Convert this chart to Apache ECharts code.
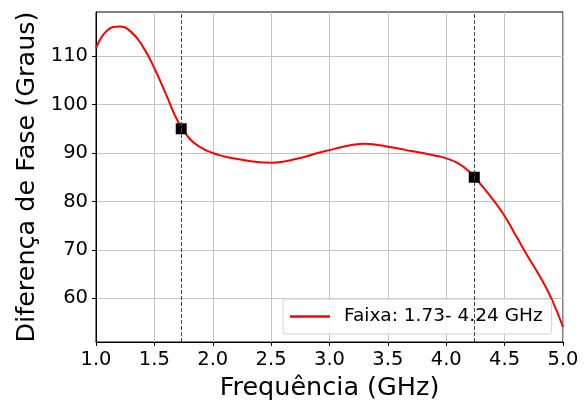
<!DOCTYPE html>
<html>
<head>
<meta charset="utf-8">
<script src="https://cdn.jsdelivr.net/npm/echarts@6/dist/echarts.min.js"></script>
<style>
  html, body { margin: 0; padding: 0; background: #fff; }
  #chart { width: 588px; height: 406px; }
</style>
</head>
<body>
<div id="chart"></div>
<script>
// dados (passo de 0.1 GHz)
const freq = [1.0, 1.1, 1.2, 1.3, 1.4, 1.5, 1.6, 1.7, 1.8, 1.9,
  2.0, 2.1, 2.2, 2.3, 2.4, 2.5, 2.6, 2.7, 2.8, 2.9,
  3.0, 3.1, 3.2, 3.3, 3.4, 3.5, 3.6, 3.7, 3.8, 3.9,
  4.0, 4.1, 4.2, 4.3, 4.4, 4.5, 4.6, 4.7, 4.8, 4.9, 5.0]
const phase = [111.6, 115.4, 116.1, 115.0, 112.0, 107.5, 102.1, 96.6, 93.0, 91.1,
  90.0, 89.3, 88.8, 88.4, 88.1, 88.0, 88.2, 88.7, 89.3, 90.0,
  90.6, 91.2, 91.7, 91.9, 91.7, 91.3, 90.9, 90.4, 90.0, 89.5,
  88.9, 87.9, 86.1, 83.4, 80.4, 77.0, 72.8, 68.6, 64.6, 60.0, 54.1]
// limites da faixa
const bandFreq = [1.73, 4.24]
const bandPhase = [95.0, 85.0]
const yTicks = [60, 70, 80, 90, 100, 110]
const legendName = 'Faixa: 1.73- 4.24 GHz'

const font = 'DejaVu Sans'
const chart = echarts.init(document.getElementById('chart'))

const option = {
  animation: false,
  grid: {
    left: 96, right: 25, top: 12, bottom: 63,
    show: true, borderColor: '#000', borderWidth: 1
  },
  legend: {
    data: [legendName],
    left: 283, top: 299,
    padding: [8, 9, 8, 7],
    itemWidth: 40, itemHeight: 2.5, itemGap: 0,
    icon: 'rect',
    backgroundColor: 'rgba(255,255,255,0.85)',
    borderColor: '#d0d0d0', borderWidth: 1, borderRadius: 3,
    textStyle: { fontFamily: font, fontSize: 18.5, color: '#000', padding: [0, 0, 0, 9] }
  },
  xAxis: {
    type: 'value',
    min: 1, max: 5, interval: 0.5,
    name: 'Frequência (GHz)',
    nameLocation: 'middle', nameGap: 33,
    nameTextStyle: { fontFamily: font, fontSize: 25.5, color: '#000' },
    axisLine: { show: true, onZero: false, lineStyle: { color: '#000', width: 1 } },
    axisTick: { show: true, inside: false, length: 4, lineStyle: { color: '#000' } },
    axisLabel: { fontFamily: font, fontSize: 19.5, color: '#000', margin: 8,
      formatter: v => v.toFixed(1) },
    splitLine: { show: true, lineStyle: { color: '#c4c4c4', width: 1 } }
  },
  yAxis: {
    type: 'value',
    min: 51, max: 119.1,
    name: 'Diferença de Fase (Graus)',
    nameLocation: 'middle', nameGap: 55,
    nameTextStyle: { fontFamily: font, fontSize: 25.5, color: '#000' },
    axisLine: { show: true, lineStyle: { color: '#000', width: 1 } },
    axisTick: { show: true, inside: false, length: 4, customValues: yTicks, lineStyle: { color: '#000' } },
    axisLabel: { fontFamily: font, fontSize: 19.5, color: '#000', margin: 8, customValues: yTicks },
    splitLine: { show: true, lineStyle: { color: '#c4c4c4', width: 1 } }
  },
  series: [
    {
      name: legendName,
      type: 'line',
      data: freq.map((f, i) => [f, phase[i]]),
      smooth: 0.5,
      showSymbol: false,
      lineStyle: { color: '#ff0000', width: 2 },
      itemStyle: { color: '#ff0000' },
      z: 3,
      markLine: {
        silent: true,
        symbol: 'none',
        label: { show: false },
        lineStyle: { color: '#444', width: 1, type: [4, 2] },
        data: bandFreq.map(f => ({ xAxis: f }))
      }
    },
    {
      name: 'limites',
      type: 'scatter',
      data: bandFreq.map((f, i) => [f, bandPhase[i]]),
      symbol: 'rect',
      symbolSize: 11,
      itemStyle: { color: '#000', opacity: 1 },
      z: 4
    }
  ]
}

chart.setOption(option)
</script>
</body>
</html>
